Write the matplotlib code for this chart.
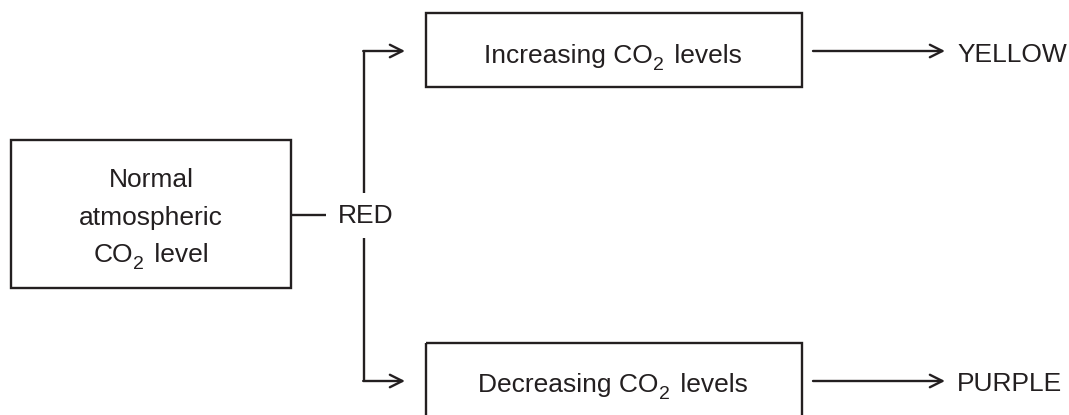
import matplotlib
matplotlib.use("Agg")

import matplotlib.pyplot as plt
from matplotlib.patches import Rectangle

plt.rcParams["font.family"] = ["Liberation Sans", "DejaVu Sans"]

###--------------------labels-------------------------###
# each label is a list of (text, is_subscript)
start_lines = [
    [("Normal", False)],
    [("atmospheric", False)],
    [("CO", False), ("2", True), (" level", False)],
]
start_result = "RED"
branch_labels = [
    [("Increasing CO", False), ("2", True), (" levels", False)],
    [("Decreasing CO", False), ("2", True), (" levels", False)],
]
branch_results = ["YELLOW", "PURPLE"]

###--------------------style--------------------------###
ink = "#231f20"
lw = 1.7
fs = 19
fs_sub = 14
sub_drop = 6.5
sub_gap = 3

fig = plt.figure(figsize=(10.69, 4.15), dpi=100, facecolor="white")
ax = fig.add_axes([0, 0, 1, 1])
ax.set_xlim(0, 1069)
ax.set_ylim(415, 0)
ax.axis("off")
renderer = fig.canvas.get_renderer()


def rich_text(xc, base, parts):
    """Centre a run of text pieces on xc, subscripts smaller and lowered."""
    items = []
    for s, sub in parts:
        t = ax.text(0, base + (sub_drop if sub else 0), s, ha="left",
                    va="baseline", fontsize=fs_sub if sub else fs, color=ink)
        w = t.get_window_extent(renderer).width + (sub_gap if sub else 0)
        items.append((t, w))
    total = sum(w for _, w in items)
    x = xc - total / 2
    for t, w in items:
        t.set_x(x)
        x += w


# left box
ax.add_patch(Rectangle((11, 140), 280, 148, fill=False, ec=ink, lw=lw))
for line, base in zip(start_lines, [187, 224.5, 262]):
    rich_text(151, base, line)

# link to RED
ax.plot([291, 326], [215, 215], color=ink, lw=lw, solid_capstyle="butt")
ax.text(366, 223, start_result, ha="center", va="baseline", fontsize=fs, color=ink)

arrow_kw = dict(arrowstyle="->,head_length=0.9,head_width=0.45", color=ink,
                lw=lw, shrinkA=0, shrinkB=0)

branch_y = [51, 381]
branch_base = [63, 392]
branch_box_top = [13, 343]
branch_stub = [193, 238]
for y, base, top, stub, label, result in zip(branch_y, branch_base, branch_box_top,
                                             branch_stub, branch_labels, branch_results):
    # elbow from RED to box
    ax.plot([364, 364], [stub, y], color=ink, lw=lw, solid_capstyle="butt")
    ax.annotate("", xy=(405, y), xytext=(363.2, y), arrowprops=arrow_kw)
    # box
    ax.add_patch(Rectangle((426, top), 376, 74, fill=False, ec=ink, lw=lw,
                           clip_on=False))
    rich_text(613, base, label)
    # result arrow
    ax.annotate("", xy=(945, y), xytext=(813, y), arrowprops=arrow_kw)
    ax.text(957, base - 1, result, ha="left", va="baseline", fontsize=fs, color=ink)

plt.savefig("out.png", dpi=100, facecolor="white")
